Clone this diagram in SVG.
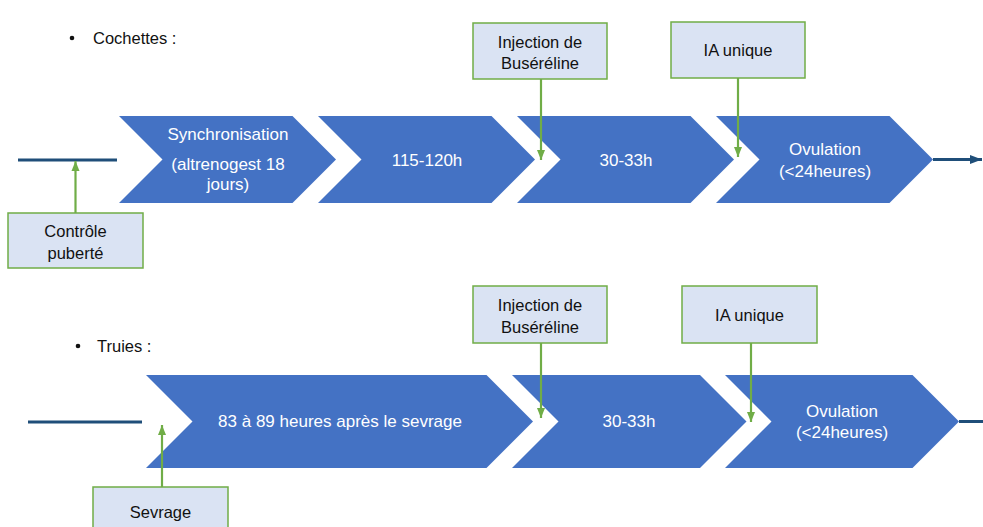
<svg xmlns="http://www.w3.org/2000/svg" width="983" height="527" viewBox="0 0 983 527">
<style>
.chev{fill:#4472C4}
.box{fill:#DAE3F3;stroke:#70AD47;stroke-width:1.5}
.gl{stroke:#70AD47;stroke-width:2.2;fill:none}
.tl{stroke:#1F4E79;stroke-width:3;fill:none}
.wt{font-family:"Liberation Sans",Arial,sans-serif;font-size:17px;fill:#FFFFFF;text-anchor:middle}
.bt{font-family:"Liberation Sans",Arial,sans-serif;font-size:16.5px;fill:#111111;text-anchor:middle}
.hd{font-family:"Liberation Sans",Arial,sans-serif;font-size:16.5px;fill:#111111}
</style>
<defs>
<marker id="ga" markerUnits="userSpaceOnUse" markerWidth="10" markerHeight="10" viewBox="0 0 10 10" refX="10" refY="5" orient="auto">
<path d="M0,1 L10,5 L0,9 Z" fill="#70AD47"/>
</marker>
<marker id="ba" markerUnits="userSpaceOnUse" markerWidth="12" markerHeight="12" viewBox="0 0 12 12" refX="12" refY="6" orient="auto">
<path d="M0,1.5 L12,6 L0,10.5 Z" fill="#1F4E79"/>
</marker>
</defs>
<rect width="983" height="527" fill="#FFFFFF"/>

<g id="title-cochettes">
<circle cx="72" cy="38" r="2.3" fill="#111"/>
<text class="hd" x="93" y="44">Cochettes :</text>
</g>
<g id="title-truies">
<circle cx="78" cy="346" r="2.3" fill="#111"/>
<text class="hd" x="97" y="352">Truies :</text>
</g>

<g id="c-sync">
<path class="chev" d="M119,116 L292.5,116 L336,159.5 L292.5,203 L119,203 L162.5,159.5 Z"/>
<text class="wt" x="228" y="140">Synchronisation</text>
<text class="wt" x="228" y="170">(altrenogest 18</text>
<text class="wt" x="228" y="190">jours)</text>
</g>
<g id="c-115">
<path class="chev" d="M318,116 L491.5,116 L535,159.5 L491.5,203 L318,203 L361.5,159.5 Z"/>
<text class="wt" x="427" y="166">115-120h</text>
</g>
<g id="c-30a">
<path class="chev" d="M517,116 L690.5,116 L734,159.5 L690.5,203 L517,203 L560.5,159.5 Z"/>
<text class="wt" x="626" y="166">30-33h</text>
</g>
<g id="c-ovu-a">
<path class="chev" d="M716,116 L889.5,116 L933,159.5 L889.5,203 L716,203 L759.5,159.5 Z"/>
<text class="wt" x="825" y="155">Ovulation</text>
<text class="wt" x="825" y="177">(&lt;24heures)</text>
</g>

<g id="c-83">
<path class="chev" d="M146,375 L486.5,375 L533,421.5 L486.5,468 L146,468 L192.5,421.5 Z"/>
<text class="wt" x="340" y="427">83 à 89 heures après le sevrage</text>
</g>
<g id="c-30b">
<path class="chev" d="M512,375 L700,375 L746.5,421.5 L700,468 L512,468 L558.5,421.5 Z"/>
<text class="wt" x="629" y="427">30-33h</text>
</g>
<g id="c-ovu-b">
<path class="chev" d="M725,375 L912.5,375 L959,421.5 L912.5,468 L725,468 L771.5,421.5 Z"/>
<text class="wt" x="842" y="417">Ovulation</text>
<text class="wt" x="842" y="438">(&lt;24heures)</text>
</g>

<g id="b-controle">
<rect class="box" x="8" y="213" width="135" height="55"/>
<text class="bt" x="75.5" y="237">Contrôle</text>
<text class="bt" x="75.5" y="259">puberté</text>
</g>
<g id="b-inj-a">
<rect class="box" x="473" y="23" width="134" height="56"/>
<text class="bt" x="540" y="48">Injection de</text>
<text class="bt" x="540" y="69">Buséréline</text>
</g>
<g id="b-ia-a">
<rect class="box" x="671" y="22" width="134" height="56"/>
<text class="bt" x="738" y="56">IA unique</text>
</g>
<g id="b-inj-b">
<rect class="box" x="473" y="286" width="134" height="57"/>
<text class="bt" x="540" y="311">Injection de</text>
<text class="bt" x="540" y="333">Buséréline</text>
</g>
<g id="b-ia-b">
<rect class="box" x="682" y="286" width="135" height="57"/>
<text class="bt" x="749.5" y="321">IA unique</text>
</g>
<g id="b-sevrage">
<rect class="box" x="93" y="487" width="135" height="57"/>
<text class="bt" x="160.5" y="518">Sevrage</text>
</g>

<g id="connectors">
<line class="tl" x1="18" y1="160" x2="117" y2="160"/>
<line class="tl" x1="933" y1="159.5" x2="982" y2="159.5" stroke-width="2.5" marker-end="url(#ba)"/>
<line class="tl" x1="28" y1="422" x2="142" y2="422"/>
<line class="tl" x1="959" y1="421.5" x2="983" y2="421.5"/>
<line class="gl" x1="75.5" y1="213" x2="75.5" y2="161" marker-end="url(#ga)"/>
<line class="gl" x1="541" y1="79" x2="541" y2="160" marker-end="url(#ga)"/>
<line class="gl" x1="738" y1="78" x2="738" y2="157" marker-end="url(#ga)"/>
<line class="gl" x1="541" y1="343" x2="541" y2="418" marker-end="url(#ga)"/>
<line class="gl" x1="751" y1="343" x2="751" y2="422" marker-end="url(#ga)"/>
<line class="gl" x1="162" y1="487" x2="162" y2="425" marker-end="url(#ga)"/>
</g>
</svg>
